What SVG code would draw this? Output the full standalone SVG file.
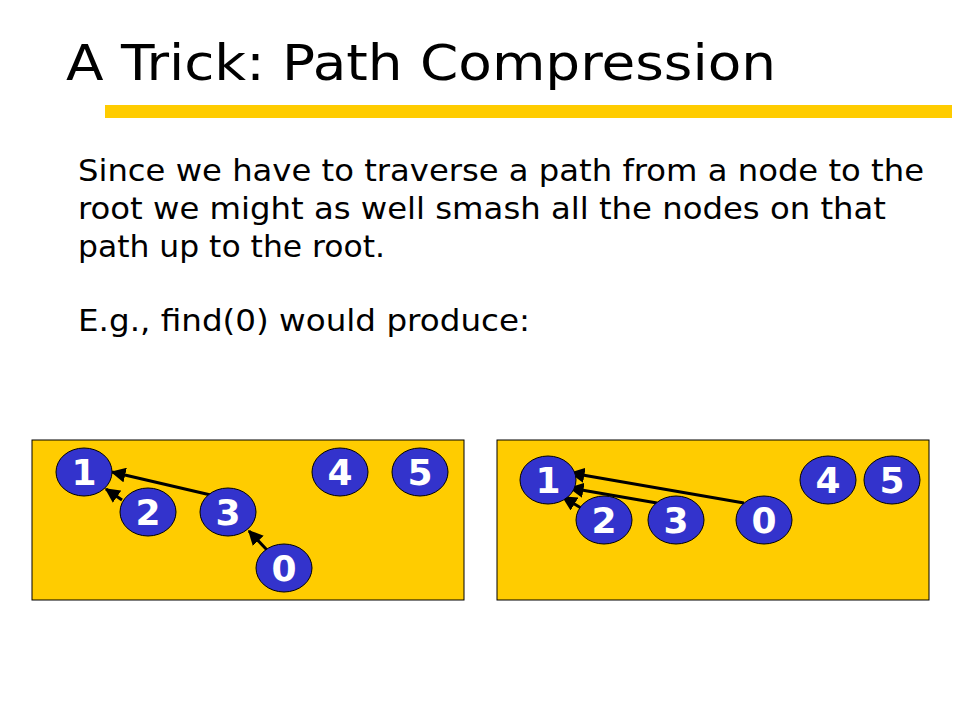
<svg xmlns="http://www.w3.org/2000/svg" width="960" height="720" viewBox="0 0 960 720">
<style>
.title{font-family:"DejaVu Sans","Liberation Sans",sans-serif;font-size:50px;fill:#000}
.body text{font-family:"DejaVu Sans","Liberation Sans",sans-serif;font-size:31px;fill:#000}
.panel{fill:#FFCC00;stroke:#000;stroke-width:1}
.node ellipse{fill:#3333CC;stroke:#000;stroke-width:1}
.node text{font-family:"DejaVu Sans","Liberation Sans",sans-serif;font-weight:bold;font-size:36px;fill:#fff;text-anchor:middle}
.edge{stroke:#000;stroke-width:3;fill:none;marker-end:url(#arr)}
</style>
<defs>
<marker id="arr" viewBox="0 0 10 10" refX="9" refY="5" markerWidth="5" markerHeight="5" orient="auto" markerUnits="strokeWidth">
<path d="M0,0 L10,5 L0,10 z" fill="#000"/>
</marker>
</defs>
<rect width="960" height="720" fill="#fff"/>
<text class="title" x="66" y="80" textLength="710" lengthAdjust="spacingAndGlyphs">A Trick: Path Compression</text>
<rect x="105" y="105" width="847" height="13" fill="#FFCC00"/>
<g class="body">
<text x="78" y="181" textLength="846" lengthAdjust="spacingAndGlyphs">Since we have to traverse a path from a node to the</text>
<text x="78" y="219" textLength="808" lengthAdjust="spacingAndGlyphs">root we might as well smash all the nodes on that</text>
<text x="78" y="257" textLength="307" lengthAdjust="spacingAndGlyphs">path up to the root.</text>
<text x="78" y="331" textLength="452" lengthAdjust="spacingAndGlyphs">E.g., find(0) would produce:</text>
</g>
<rect id="panel-before" class="panel" x="32" y="440" width="432" height="160"/>
<rect id="panel-after" class="panel" x="497" y="440" width="432" height="160"/>
<g id="connectors">
<line class="edge" x1="215" y1="496" x2="112" y2="472"/>
<line class="edge" x1="122" y1="500" x2="106" y2="489"/>
<line class="edge" x1="267" y1="550" x2="249" y2="531"/>
<line class="edge" x1="744" y1="503" x2="571" y2="473"/>
<line class="edge" x1="657" y1="503" x2="570" y2="488"/>
<line class="edge" x1="581" y1="508" x2="563" y2="497"/>
</g>
<g id="L1" class="node"><ellipse cx="84" cy="472" rx="28" ry="24"/><text x="84" y="485">1</text></g>
<g id="L2" class="node"><ellipse cx="148" cy="512" rx="28" ry="24"/><text x="148" y="525">2</text></g>
<g id="L3" class="node"><ellipse cx="228" cy="512" rx="28" ry="24"/><text x="228" y="525">3</text></g>
<g id="L0" class="node"><ellipse cx="284" cy="568" rx="28" ry="24"/><text x="284" y="581">0</text></g>
<g id="L4" class="node"><ellipse cx="340" cy="472" rx="28" ry="24"/><text x="340" y="485">4</text></g>
<g id="L5" class="node"><ellipse cx="420" cy="472" rx="28" ry="24"/><text x="420" y="485">5</text></g>
<g id="R1" class="node"><ellipse cx="548" cy="480" rx="28" ry="24"/><text x="548" y="493">1</text></g>
<g id="R2" class="node"><ellipse cx="604" cy="520" rx="28" ry="24"/><text x="604" y="533">2</text></g>
<g id="R3" class="node"><ellipse cx="676" cy="520" rx="28" ry="24"/><text x="676" y="533">3</text></g>
<g id="R0" class="node"><ellipse cx="764" cy="520" rx="28" ry="24"/><text x="764" y="533">0</text></g>
<g id="R4" class="node"><ellipse cx="828" cy="480" rx="28" ry="24"/><text x="828" y="493">4</text></g>
<g id="R5" class="node"><ellipse cx="892" cy="480" rx="28" ry="24"/><text x="892" y="493">5</text></g>
</svg>
